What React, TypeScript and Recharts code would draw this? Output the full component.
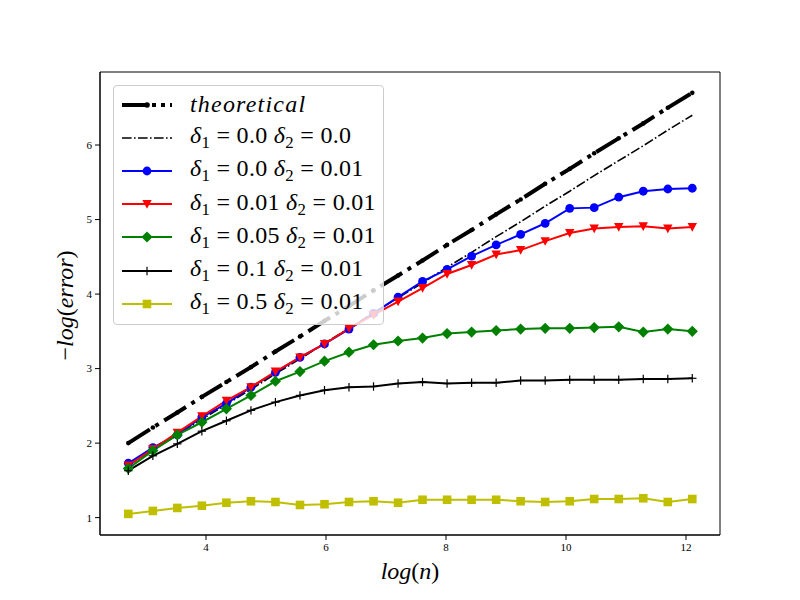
import React from 'react';
import { LineChart, Line, XAxis, YAxis, Legend, ReferenceArea, Label } from 'recharts';

// log(n) sample positions
const logN = [2.705, 3.114, 3.522, 3.931, 4.34, 4.749, 5.157, 5.566, 5.975, 6.383, 6.792, 7.201, 7.609, 8.018, 8.427, 8.836, 9.244, 9.653, 10.062, 10.47, 10.879, 11.288, 11.697, 12.105];

const theoretical = [2.0, 2.21, 2.41, 2.62, 2.82, 3.02, 3.23, 3.43, 3.64, 3.84, 4.05, 4.25, 4.45, 4.66, 4.86, 5.07, 5.27, 5.48, 5.68, 5.89, 6.09, 6.29, 6.5, 6.7];
const d00_00 = [1.7, 1.91, 2.11, 2.32, 2.52, 2.72, 2.93, 3.13, 3.34, 3.54, 3.75, 3.95, 4.15, 4.36, 4.56, 4.77, 4.97, 5.18, 5.38, 5.59, 5.79, 5.99, 6.2, 6.4];
const d00_01 = [1.73, 1.94, 2.11, 2.35, 2.53, 2.75, 2.95, 3.15, 3.33, 3.53, 3.74, 3.96, 4.17, 4.33, 4.51, 4.66, 4.8, 4.95, 5.15, 5.16, 5.3, 5.38, 5.41, 5.42];
const d01_01 = [1.7, 1.92, 2.14, 2.36, 2.57, 2.75, 2.96, 3.15, 3.33, 3.54, 3.72, 3.9, 4.08, 4.27, 4.39, 4.53, 4.59, 4.71, 4.82, 4.88, 4.9, 4.91, 4.88, 4.9];
const d05_01 = [1.66, 1.9, 2.11, 2.28, 2.46, 2.64, 2.83, 2.96, 3.1, 3.22, 3.32, 3.37, 3.41, 3.47, 3.49, 3.51, 3.53, 3.54, 3.54, 3.55, 3.56, 3.49, 3.53, 3.5];
const d10_01 = [1.63, 1.83, 1.99, 2.16, 2.3, 2.44, 2.55, 2.64, 2.71, 2.75, 2.76, 2.8, 2.82, 2.8, 2.81, 2.81, 2.84, 2.84, 2.85, 2.85, 2.85, 2.86, 2.86, 2.87];
const d50_01 = [1.05, 1.09, 1.13, 1.16, 1.2, 1.22, 1.21, 1.17, 1.18, 1.21, 1.22, 1.2, 1.24, 1.24, 1.24, 1.24, 1.22, 1.21, 1.22, 1.25, 1.25, 1.26, 1.21, 1.25];

const xTicks = [4, 6, 8, 10, 12];
const yTicks = [1, 2, 3, 4, 5, 6];
const X_DOMAIN: [number, number] = [2.233, 12.567];
const Y_DOMAIN: [number, number] = [0.767, 6.98];

const rows = logN.map((x, i) => ({
  x,
  theo: theoretical[i],
  a: d00_00[i],
  b: d00_01[i],
  c: d01_01[i],
  d: d05_01[i],
  e: d10_01[i],
  f: d50_01[i],
}));

const SERIF = '"Liberation Serif", "DejaVu Serif", serif';
const YELLOW = '#bfbf00';

type MarkerKind = 'dot' | 'circle' | 'tri' | 'diamond' | 'plus' | 'square' | 'none';

function Marker({ kind, cx, cy, color }: { kind: MarkerKind; cx: number; cy: number; color: string }) {
  if (cx == null || cy == null || isNaN(cx) || isNaN(cy)) return null;
  switch (kind) {
    case 'dot':
      return <circle cx={cx} cy={cy} r={2.3} fill={color} />;
    case 'circle':
      return <circle cx={cx} cy={cy} r={4.4} fill={color} />;
    case 'tri':
      return <polygon points={`${cx - 4.7},${cy - 4} ${cx + 4.7},${cy - 4} ${cx},${cy + 4.7}`} fill={color} />;
    case 'diamond':
      return <polygon points={`${cx},${cy - 5.6} ${cx + 5.6},${cy} ${cx},${cy + 5.6} ${cx - 5.6},${cy}`} fill={color} />;
    case 'plus':
      return (
        <g stroke={color} strokeWidth={1.2}>
          <line x1={cx - 4.2} y1={cy} x2={cx + 4.2} y2={cy} />
          <line x1={cx} y1={cy - 4.2} x2={cx} y2={cy + 4.2} />
        </g>
      );
    case 'square':
      return <rect x={cx - 4.3} y={cy - 4.3} width={8.6} height={8.6} fill={color} />;
    default:
      return null;
  }
}

const dotFor = (kind: MarkerKind, color: string) => (p: any) => (
  <Marker key={`${kind}-${p.index}`} kind={kind} cx={p.cx} cy={p.cy} color={color} />
);

type SeriesDef = {
  key: string;
  color: string;
  width: number;
  dash?: string;
  marker: MarkerKind;
  d1: string;
  d2: string;
};

const series: SeriesDef[] = [
  { key: 'theo', color: '#000000', width: 4, dash: '25.6 6.4 4 6.4', marker: 'dot', d1: '', d2: '' },
  { key: 'a', color: '#000000', width: 1.6, dash: '9.6 2.4 1.6 2.4', marker: 'none', d1: '0.0', d2: '0.0' },
  { key: 'b', color: '#0000ff', width: 2, marker: 'circle', d1: '0.0', d2: '0.01' },
  { key: 'c', color: '#ff0000', width: 2, marker: 'tri', d1: '0.01', d2: '0.01' },
  { key: 'd', color: '#008000', width: 2, marker: 'diamond', d1: '0.05', d2: '0.01' },
  { key: 'e', color: '#000000', width: 2, marker: 'plus', d1: '0.1', d2: '0.01' },
  { key: 'f', color: YELLOW, width: 2, marker: 'square', d1: '0.5', d2: '0.01' },
];

function DeltaText({ d1, d2 }: { d1: string; d2: string }) {
  return (
    <span style={{ letterSpacing: 0.3 }}>
      <i>δ</i>
      <sub style={{ fontSize: '0.7em', verticalAlign: '-0.3em' }}>1</sub>
      {` = ${d1} `}
      <i>δ</i>
      <sub style={{ fontSize: '0.7em', verticalAlign: '-0.3em' }}>2</sub>
      {` = ${d2}`}
    </span>
  );
}

function LegendBox() {
  return (
    <div
      style={{
        width: 271,
        height: 240,
        boxSizing: 'border-box',
        border: '1px solid #cccccc',
        borderRadius: 4,
        background: 'rgba(255,255,255,0.8)',
        fontFamily: SERIF,
        fontSize: 24,
        color: '#000',
        paddingTop: 2,
      }}
    >
      {series.map((s) => (
        <div key={s.key} style={{ display: 'flex', alignItems: 'center', height: 33.2, whiteSpace: 'nowrap' }}>
          <svg width={76} height={24} style={{ flex: 'none' }}>
            <line
              x1={8}
              y1={12}
              x2={58}
              y2={12}
              stroke={s.color}
              strokeWidth={s.width}
              strokeDasharray={s.key === 'theo' ? '25 5 4 5 4 5' : s.dash}
            />
            <Marker kind={s.marker === 'dot' ? 'none' : s.marker} cx={33} cy={12} color={s.color} />
            {s.marker === 'dot' && <circle cx={33} cy={12} r={2.8} fill={s.color} />}
          </svg>
          {s.key === 'theo' ? <i style={{ letterSpacing: 1.2 }}>theoretical</i> : <DeltaText d1={s.d1} d2={s.d2} />}
        </div>
      ))}
    </div>
  );
}

const XLabel = (props: any) => {
  const vb = props.viewBox;
  return (
    <text x={vb.x + vb.width / 2} y={vb.y + 44} textAnchor="middle" fontFamily={SERIF} fontSize={24} fill="#000">
      <tspan fontStyle="italic">log</tspan>
      <tspan>(</tspan>
      <tspan fontStyle="italic">n</tspan>
      <tspan>)</tspan>
    </text>
  );
};

const YLabel = (props: any) => {
  const vb = props.viewBox;
  const cx = 65;
  const cy = vb.y + vb.height / 2 + 2;
  return (
    <text
      x={cx}
      y={cy}
      textAnchor="middle"
      dominantBaseline="central"
      transform={`rotate(-90 ${cx} ${cy})`}
      fontFamily={SERIF}
      fontSize={24}
      fill="#000"
    >
      <tspan>−</tspan>
      <tspan fontStyle="italic">log</tspan>
      <tspan>(</tspan>
      <tspan fontStyle="italic">error</tspan>
      <tspan>)</tspan>
    </text>
  );
};

export default function App() {
  return (
    <div style={{ position: 'absolute', left: 0, top: 0, width: 800, height: 600, background: '#fff' }}>
      <LineChart width={800} height={600} data={rows} margin={{ top: 72, right: 80, bottom: 35, left: 60 }}>
        <XAxis
          dataKey="x"
          type="number"
          domain={X_DOMAIN}
          ticks={xTicks}
          allowDataOverflow
          height={30}
          tickSize={5}
          tickMargin={3}
          axisLine={{ stroke: '#000' }}
          tickLine={{ stroke: '#000' }}
          tick={{ fill: '#000', fontFamily: SERIF, fontSize: 11 }}
        >
          <Label content={<XLabel />} />
        </XAxis>
        <YAxis
          type="number"
          domain={Y_DOMAIN}
          ticks={yTicks}
          allowDataOverflow
          width={40}
          tickSize={5}
          tickMargin={3}
          axisLine={{ stroke: '#000' }}
          tickLine={{ stroke: '#000' }}
          tick={{ fill: '#000', fontFamily: SERIF, fontSize: 11 }}
        >
          <Label content={<YLabel />} />
        </YAxis>
        <ReferenceArea
          x1={X_DOMAIN[0]}
          x2={X_DOMAIN[1]}
          y1={Y_DOMAIN[0]}
          y2={Y_DOMAIN[1]}
          fill="none"
          fillOpacity={0}
          stroke="#000"
          strokeWidth={1}
        />
        {series.map((s) => (
          <Line
            key={s.key}
            dataKey={s.key}
            type="linear"
            stroke={s.color}
            strokeWidth={s.width}
            strokeDasharray={s.dash}
            dot={s.marker === 'none' ? false : dotFor(s.marker, s.color)}
            activeDot={false}
            isAnimationActive={false}
          />
        ))}
        <Legend
          layout="horizontal"
          align="center"
          verticalAlign="middle"
          content={<LegendBox />}
          wrapperStyle={{ left: 113, top: 85, width: 271, height: 240 }}
        />
      </LineChart>
    </div>
  );
}
